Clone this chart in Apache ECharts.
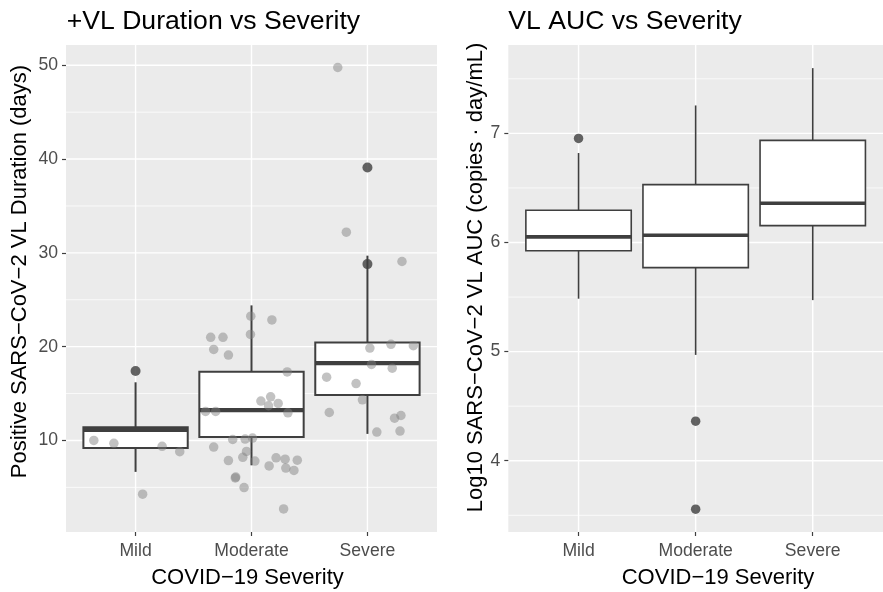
<!DOCTYPE html>
<html>
<head>
<meta charset="utf-8">
<script src="https://cdn.jsdelivr.net/npm/echarts@6/dist/echarts.min.js"></script>
<style>html,body{margin:0;padding:0;background:#fff}#c{width:883px;height:592px}</style>
</head>
<body>
<div id="c"></div>
<script>
// ---------- data ----------
const categories = ['Mild', 'Moderate', 'Severe'];

// Panel 1: +VL duration (days) box stats [pos, lowerWhisker, Q1, median, Q3, upperWhisker]
const durBoxStats = [
  [1, 6.65, 9.19, 11.13, 11.42, 16.2],
  [2, 7.35, 10.36, 13.23, 17.33, 24.4],
  [3, 10.7, 14.85, 18.25, 20.45, 29.7]
];
const durOutliers = [[1, 17.4], [3, 39.1], [3, 28.8]];
// jittered observations [x position (category units), days]
const durMild = [[0.64, 10.0], [0.813, 9.7], [1.229, 9.37], [1.381, 8.8], [1.061, 4.27]];
const durModerate = [
  [1.994, 23.25], [2.176, 22.85], [1.648, 21.0], [1.754, 21.0], [1.991, 21.3], [1.674, 19.7],
  [1.801, 19.1], [2.308, 17.3], [2.165, 14.65], [2.081, 14.2], [2.147, 13.7], [2.23, 13.95],
  [1.604, 13.1], [1.691, 13.1], [2.314, 12.95], [1.838, 10.1], [1.945, 10.15], [2.009, 10.25],
  [1.674, 9.3], [1.957, 8.83], [1.925, 8.2], [1.801, 7.85], [2.029, 7.8], [2.212, 8.15],
  [2.29, 8.0], [2.395, 7.9], [2.152, 7.28], [2.296, 7.06], [2.366, 6.8], [1.864, 6.1],
  [1.86, 6.0], [1.936, 4.98], [2.277, 2.7]
];
const durSevere = [
  [2.744, 49.76], [2.818, 32.2], [3.298, 29.08], [3.021, 19.85], [3.203, 20.25], [3.396, 20.1],
  [3.035, 18.1], [3.214, 17.7], [2.648, 16.75], [2.902, 16.07], [2.957, 14.33], [2.671, 12.98],
  [3.289, 12.66], [3.234, 12.37], [3.081, 10.89], [3.281, 11.0]
];
const durTicks = [10, 20, 30, 40, 50];
const durMinor = [5, 15, 25, 35, 45];

// Panel 2: log10 VL AUC box stats
const aucBoxStats = [
  [1, 5.485, 5.924, 6.052, 6.296, 6.82],
  [2, 4.97, 5.77, 6.067, 6.53, 7.256],
  [3, 5.472, 6.155, 6.36, 6.936, 7.598]
];
const aucOutliers = [[1, 6.954], [2, 4.363], [2, 3.556]];
const aucTicks = [4, 5, 6, 7];
const aucMinor = [3.5, 4.5, 5.5, 6.5, 7.5];
const catPos = [1, 2, 3];

// ---------- style ----------
const FONT = '"Liberation Sans", Arial, Helvetica, sans-serif';
const LINE = '#3F3F3F';
const TICKLAB = '#4D4D4D';

function gridRender(params, api) {
  const kind = api.value(2); // 0 major-h, 1 minor-h, 2 major-v
  const cs = params.coordSys;
  const p = api.coord([api.value(0), api.value(1)]);
  if (kind === 2) {
    return {type: 'line', shape: {x1: p[0], y1: cs.y, x2: p[0], y2: cs.y + cs.height},
      style: {stroke: '#FFFFFF', lineWidth: 1.4}, silent: true};
  }
  return {type: 'line', shape: {x1: cs.x, y1: p[1], x2: cs.x + cs.width, y2: p[1]},
    style: {stroke: '#FFFFFF', lineWidth: kind === 0 ? 1.4 : 0.75}, silent: true};
}
function gridData(major, minor) {
  const d = [];
  major.forEach(v => d.push([2, v, 0]));
  minor.forEach(v => d.push([2, v, 1]));
  catPos.forEach(v => d.push([v, (major[0] + major[1]) / 2, 2]));
  return d;
}
function boxRender(lw, mw) {
  return function (params, api) {
    const x = api.value(0);
    const lo = api.coord([x, api.value(1)]);
    const q1 = api.coord([x, api.value(2)]);
    const md = api.coord([x, api.value(3)]);
    const q3 = api.coord([x, api.value(4)]);
    const hi = api.coord([x, api.value(5)]);
    const hw = api.size([0.45, 0])[0];
    const cx = md[0];
    const st = {stroke: LINE, lineWidth: lw, fill: null};
    return {type: 'group', children: [
      {type: 'line', shape: {x1: cx, y1: hi[1], x2: cx, y2: q3[1]}, style: st},
      {type: 'line', shape: {x1: cx, y1: q1[1], x2: cx, y2: lo[1]}, style: st},
      {type: 'rect', shape: {x: cx - hw, y: q3[1], width: 2 * hw, height: q1[1] - q3[1]},
        style: {stroke: LINE, lineWidth: lw, fill: '#FFFFFF'}},
      {type: 'line', shape: {x1: cx - hw, y1: md[1], x2: cx + hw, y2: md[1]},
        style: {stroke: LINE, lineWidth: mw}}
    ]};
  };
}
function xAxisDef(gi) {
  return {
    type: 'value', gridIndex: gi, min: 0.4, max: 3.6,
    axisLine: {show: false},
    axisTick: {show: true, customValues: catPos, length: 4, lineStyle: {color: LINE, width: 1.2}},
    axisLabel: {customValues: catPos, formatter: v => categories[Math.round(v) - 1] || '',
      color: TICKLAB, fontSize: 17.6, fontFamily: FONT, margin: 10},
    splitLine: {show: false}
  };
}
function yAxisDef(gi, min, max, ticks) {
  return {
    type: 'value', gridIndex: gi, min: min, max: max,
    axisLine: {show: false},
    axisTick: {show: true, customValues: ticks, length: 4, lineStyle: {color: LINE, width: 1.2}},
    axisLabel: {customValues: ticks, color: TICKLAB, fontSize: 17.6, fontFamily: FONT, margin: 8},
    splitLine: {show: false}
  };
}
const jitterStyle = {color: 'rgba(127,127,127,0.6)'};

const chart = echarts.init(document.getElementById('c'), null, {renderer: 'canvas'});
chart.setOption({
  animation: false,
  backgroundColor: '#FFFFFF',
  grid: [
    {left: 66, top: 45, width: 371, height: 487, show: true, backgroundColor: '#EBEBEB', borderWidth: 0},
    {left: 508.3, top: 45, width: 381, height: 487, show: true, backgroundColor: '#EBEBEB', borderWidth: 0}
  ],
  xAxis: [xAxisDef(0), xAxisDef(1)],
  yAxis: [yAxisDef(0, 0.24, 52.16, durTicks), yAxisDef(1, 3.347, 7.81, aucTicks)],
  graphic: [
    {type: 'text', left: 66.7, top: 8, style: {text: '+VL Duration vs Severity', fontSize: 26.6, fontFamily: FONT, fill: '#000'}},
    {type: 'text', left: 508.3, top: 8, style: {text: 'VL AUC vs Severity', fontSize: 26.6, fontFamily: FONT, fill: '#000'}},
    {type: 'text', x: 247.5, y: 578, style: {text: 'COVID\u221219 Severity', fontSize: 22, fontFamily: FONT, fill: '#000', align: 'center', verticalAlign: 'middle'}},
    {type: 'text', x: 718, y: 578, style: {text: 'COVID\u221219 Severity', fontSize: 22, fontFamily: FONT, fill: '#000', align: 'center', verticalAlign: 'middle'}},
    {type: 'text', x: 20, y: 271.5, rotation: Math.PI / 2, style: {text: 'Positive SARS\u2212CoV\u22122 VL Duration (days)', fontSize: 22, fontFamily: FONT, fill: '#000', align: 'center', verticalAlign: 'middle'}},
    {type: 'text', x: 476, y: 277.5, rotation: Math.PI / 2, style: {text: 'Log10 SARS\u2212CoV\u22122 VL AUC (copies \u00B7 day/mL)', fontSize: 22, fontFamily: FONT, fill: '#000', align: 'center', verticalAlign: 'middle'}}
  ],
  series: [
    {type: 'custom', name: 'grid1', xAxisIndex: 0, yAxisIndex: 0, z: 0, silent: true, clip: true,
      renderItem: gridRender, data: gridData(durTicks, durMinor), encode: {x: 0, y: 1}},
    {type: 'custom', name: 'grid2', xAxisIndex: 1, yAxisIndex: 1, z: 0, silent: true, clip: true,
      renderItem: gridRender, data: gridData(aucTicks, aucMinor), encode: {x: 0, y: 1}},
    {type: 'custom', name: 'durBox', xAxisIndex: 0, yAxisIndex: 0, z: 2,
      renderItem: boxRender(2.0, 4.2), data: durBoxStats, encode: {x: 0, y: [1, 2, 3, 4, 5]}},
    {type: 'custom', name: 'aucBox', xAxisIndex: 1, yAxisIndex: 1, z: 2,
      renderItem: boxRender(1.6, 3.6), data: aucBoxStats, encode: {x: 0, y: [1, 2, 3, 4, 5]}},
    {type: 'scatter', name: 'durOut', xAxisIndex: 0, yAxisIndex: 0, z: 3, symbolSize: 10,
      itemStyle: {color: '#3F3F3F'}, data: durOutliers},
    {type: 'scatter', name: 'aucOut', xAxisIndex: 1, yAxisIndex: 1, z: 3, symbolSize: 9.5,
      itemStyle: {color: '#3F3F3F'}, data: aucOutliers},
    {type: 'scatter', name: 'Mild', xAxisIndex: 0, yAxisIndex: 0, z: 4, symbolSize: 9.5, itemStyle: jitterStyle, data: durMild},
    {type: 'scatter', name: 'Moderate', xAxisIndex: 0, yAxisIndex: 0, z: 4, symbolSize: 9.5, itemStyle: jitterStyle, data: durModerate},
    {type: 'scatter', name: 'Severe', xAxisIndex: 0, yAxisIndex: 0, z: 4, symbolSize: 9.5, itemStyle: jitterStyle, data: durSevere}
  ]
});
</script>
</body>
</html>
